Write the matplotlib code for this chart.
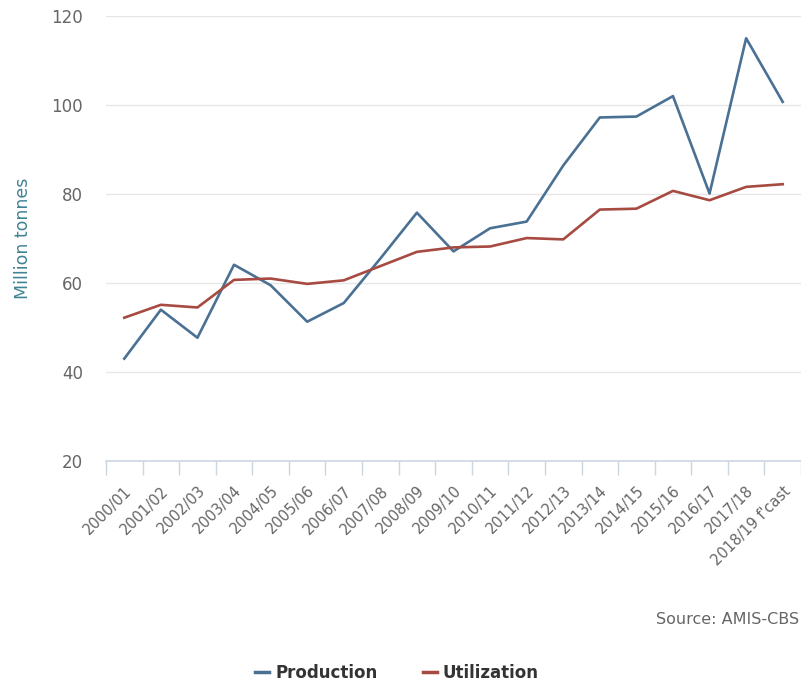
import numpy as np
import matplotlib
matplotlib.use("Agg")
from matplotlib import pyplot as plt
from matplotlib.lines import Line2D

seasons = ["2000/01", "2001/02", "2002/03", "2003/04", "2004/05", "2005/06",
           "2006/07", "2007/08", "2008/09", "2009/10", "2010/11", "2011/12",
           "2012/13", "2013/14", "2014/15", "2015/16", "2016/17", "2017/18",
           "2018/19 f'cast"]
production = [43.0, 54.0, 47.7, 64.1, 59.5, 51.3, 55.5, 65.5, 75.8, 67.1,
              72.3, 73.8, 86.4, 97.2, 97.4, 102.0, 80.1, 115.0, 100.7]
utilization = [52.2, 55.1, 54.5, 60.7, 61.0, 59.8, 60.6, 63.8, 67.0, 68.0,
               68.2, 70.1, 69.8, 76.5, 76.7, 80.7, 78.6, 81.6, 82.2]

plt.rcParams['font.family'] = ['DejaVu Sans']

blue = '#4a7193'
red = '#a64a42'
grid_c = '#e6e6e6'
text_c = '#666666'

fig = plt.figure(figsize=(8.01, 6.86), dpi=100)
ax = fig.add_axes([106/801, 1-461/686, 695/801, 445/686])

x = np.arange(len(seasons))
ax.plot(x, production, color=blue, lw=1.9, clip_on=False, zorder=3)
ax.plot(x, utilization, color=red, lw=1.9, clip_on=False, zorder=3)

ax.set_xlim(-0.5, len(seasons) - 0.5)
ax.set_ylim(20, 120)
ax.set_yticks([20, 40, 60, 80, 100, 120])
ax.grid(axis='y', color=grid_c, lw=1)
ax.set_axisbelow(True)

for s in ['top', 'right', 'left']:
    ax.spines[s].set_visible(False)
ax.spines['bottom'].set_color('#ccd6e0')
ax.spines['bottom'].set_linewidth(1.2)

ax.tick_params(axis='y', length=0, pad=16.5, labelsize=12, labelcolor=text_c)
ax.set_xticks(x)
ax.set_xticklabels(seasons, rotation=45, ha='right', rotation_mode='anchor',
                   fontsize=10.5, color=text_c)
ax.tick_params(axis='x', which='major', length=0, pad=16)
ax.set_xticks(np.arange(-0.5, len(seasons)), minor=True)
ax.tick_params(axis='x', which='minor', length=10, width=1, color='#ccd6e0')

fig.text(23/801, 1-238/686, "Million tonnes", rotation=90, ha='center', va='center',
         fontsize=12.5, color='#3f8394')

fig.text(799/801, 1-619/686, "Source: AMIS-CBS", ha='right', va='center',
         fontsize=11.5, color=text_c)

handles = [Line2D([0], [0], color=blue, lw=2.5), Line2D([0], [0], color=red, lw=2.5)]
fig.legend(handles, ["Production", "Utilization"], loc='center',
           bbox_to_anchor=(397/801, 1-673/686), ncol=2, frameon=False,
           handlelength=0.85, handletextpad=0.36, columnspacing=2.7,
           prop={'weight': 'bold', 'size': 12}, labelcolor='#333333')

plt.savefig('out.png', dpi=100)
